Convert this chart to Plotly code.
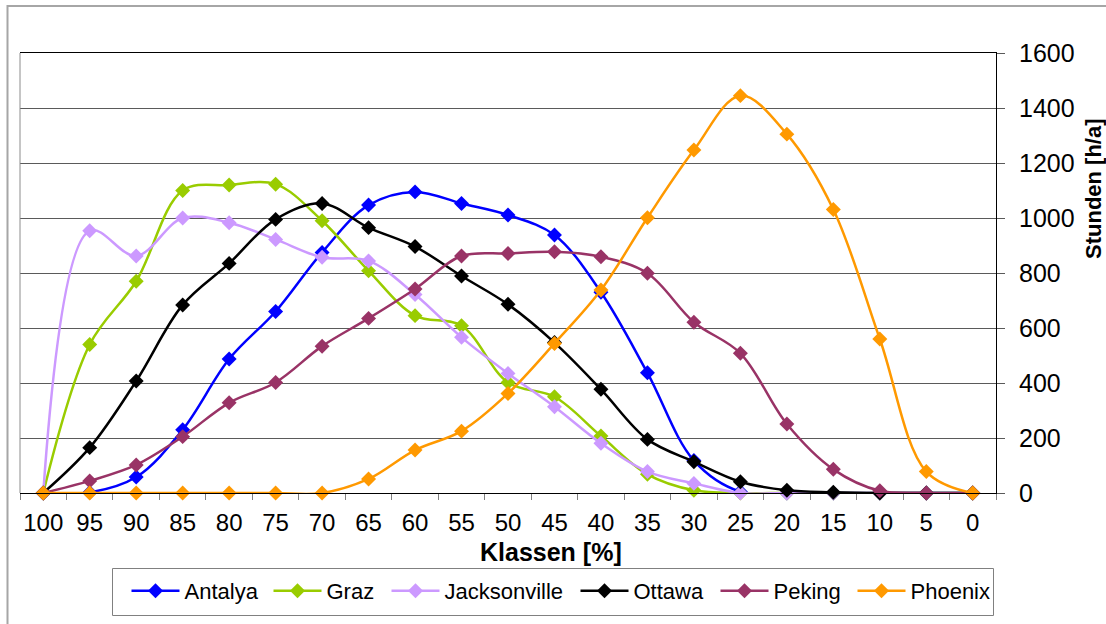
import plotly.graph_objects as go

# Klassen (Prozent), von 100 absteigend bis 0
klassen = ["100", "95", "90", "85", "80", "75", "70", "65", "60", "55", "50",
           "45", "40", "35", "30", "25", "20", "15", "10", "5", "0"]

# Stunden pro Jahr je Klasse
antalya = [0, 2, 58, 230, 487, 660, 875, 1047, 1095, 1053, 1011,
           938, 730, 437, 118, 5, 0, 0, 0, 0, 0]
graz = [0, 540, 770, 1100, 1120, 1123, 990, 808, 645, 608, 402,
        350, 207, 68, 10, 0, 0, 0, 0, 0, 0]
jacksonville = [0, 954, 862, 1000, 983, 922, 857, 844, 722, 566, 435,
                314, 181, 78, 35, 0, 0, 0, 0, 0, 0]
ottawa = [0, 165, 407, 684, 835, 995, 1053, 965, 896, 789, 686,
          547, 377, 195, 114, 41, 10, 3, 0, 0, 0]
peking = [0, 44, 102, 205, 328, 402, 534, 635, 742, 862, 871,
          877, 859, 799, 621, 508, 251, 86, 8, 0, 0]
phoenix = [0, 0, 0, 0, 0, 0, 0, 51, 156, 225, 362,
           544, 738, 1001, 1247, 1445, 1305, 1031, 560, 78, 0]

# Name, Werte, Farbe, Breite des Legendeneintrags (px)
serien = [
    ("Antalya", antalya, "#0000FF", 79),
    ("Graz", graz, "#99CC00", 55),
    ("Jacksonville", jacksonville, "#CC99FF", 126),
    ("Ottawa", ottawa, "#000000", 77),
    ("Peking", peking, "#993366", 74),
    ("Phoenix", phoenix, "#FF9900", 80),
]

W, H = 1106, 624
L, R, T, B = 20, 996, 53, 493  # Zeichenfläche in Pixeln


def px_x(p):
    return (p - L) / (R - L)


def px_y(p):
    return (B - p) / (B - T)


FONT = "Arial, Liberation Sans, sans-serif"

fig = go.Figure()
for name, werte, farbe, lw in serien:
    fig.add_trace(go.Scatter(
        x=klassen, y=werte, name=name, mode="lines+markers",
        line=dict(color=farbe, width=2.5, shape="spline", smoothing=1.0),
        marker=dict(symbol="diamond", size=11.5, color=farbe),
        cliponaxis=False, legendwidth=lw,
    ))

fig.update_layout(
    width=W, height=H,
    margin=dict(l=L, r=W - R, t=T, b=H - B, pad=0),
    paper_bgcolor="white", plot_bgcolor="white",
    font=dict(family=FONT, size=24, color="black"),
    showlegend=True,
    legend=dict(
        orientation="h", x=px_x(126.5), xanchor="left",
        y=px_y(570), yanchor="top",
        borderwidth=0, bgcolor="rgba(0,0,0,0)",
        font=dict(family=FONT, size=22, color="black"),
        itemwidth=48, tracegroupgap=0,
    ),
    xaxis=dict(
        type="category", categoryorder="array", categoryarray=klassen,
        range=[-0.5, len(klassen) - 0.5],
        showgrid=False, zeroline=False,
        showline=True, linecolor="black", linewidth=1, mirror=True,
        ticks="outside", tickson="boundaries", ticklen=6, tickcolor="#808080",
        tickfont=dict(size=24), tickangle=0, ticklabelstandoff=8,
    ),
    yaxis=dict(
        side="right", range=[0, 1600], tickvals=list(range(0, 1601, 200)),
        showgrid=True, gridcolor="#5a5a5a", gridwidth=1, zeroline=False,
        showline=True, linecolor="black", linewidth=1,
        ticks="outside", ticklen=8, tickcolor="#5a5a5a",
        tickfont=dict(size=25), ticklabelstandoff=9,
    ),
    annotations=[
        dict(text="<b>Klassen [%]</b>", xref="paper", yref="paper",
             x=px_x(551), y=px_y(552), xanchor="center", yanchor="middle",
             showarrow=False, font=dict(size=25, family=FONT)),
        dict(text="<b>Stunden [h/a]</b>", xref="paper", yref="paper",
             x=px_x(1093), y=px_y(189), xanchor="center", yanchor="middle",
             textangle=-90, showarrow=False, font=dict(size=22, family=FONT)),
    ],
    shapes=[
        # linker Rand der Zeichenfläche
        dict(type="line", xref="paper", yref="paper", x0=0, x1=0, y0=0, y1=1,
             line=dict(color="#8c8c8c", width=1)),
        # äußerer Diagrammrahmen
        dict(type="rect", xref="paper", yref="paper",
             x0=px_x(7.5), x1=px_x(1200), y0=px_y(700), y1=px_y(6),
             line=dict(color="#a6a6a6", width=2), layer="below"),
        # Rahmen der Legende
        dict(type="rect", xref="paper", yref="paper",
             x0=px_x(112.5), x1=px_x(993.5), y0=px_y(615.5), y1=px_y(568.5),
             line=dict(color="#808080", width=1), fillcolor="white",
             layer="below"),
    ],
)

fig.write_html("out.html")
